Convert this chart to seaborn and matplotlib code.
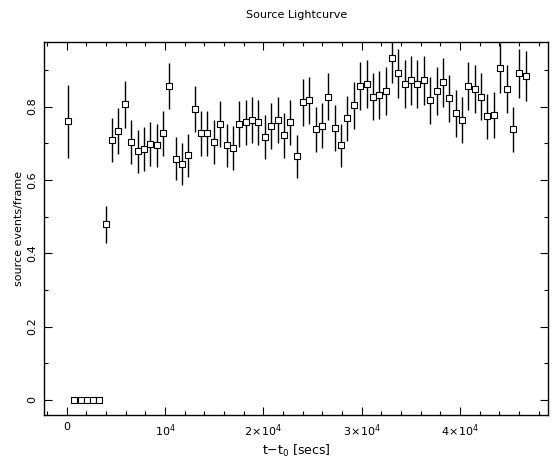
import numpy as np
import pandas as pd
import seaborn as sns
import matplotlib.pyplot as plt
from matplotlib.ticker import MultipleLocator, FixedLocator

# binned lightcurve values
time_s = [100, 770, 1420, 2040, 2650, 3260, 4000, 4640, 5250, 5960,
          6570, 7220, 7890, 8510, 9190, 9830, 10440, 11120, 11760, 12370,
          13050, 13690, 14300, 15020, 15630, 16280, 16950, 17560, 18240, 18880,
          19490, 20170, 20810, 21500, 22140, 22750, 23400, 24070, 24680, 25330,
          26000, 26610, 27290, 27940, 28550, 29260, 29870, 30520, 31190, 31800,
          32480, 33120, 33730, 34420, 35060, 35670, 36380, 36990, 37640, 38310,
          38920, 39570, 40240, 40860, 41540, 42180, 42790, 43500, 44110, 44760,
          45430, 46040, 46690]
rate = [0.760, 0.0, 0.0, 0.0, 0.0, 0.0, 0.479, 0.708, 0.733, 0.806,
        0.703, 0.678, 0.684, 0.697, 0.694, 0.727, 0.856, 0.658, 0.643, 0.667,
        0.793, 0.727, 0.727, 0.703, 0.752, 0.694, 0.688, 0.752, 0.757, 0.763,
        0.757, 0.718, 0.747, 0.763, 0.722, 0.757, 0.664, 0.812, 0.817, 0.738,
        0.748, 0.827, 0.742, 0.694, 0.768, 0.803, 0.856, 0.861, 0.827, 0.831,
        0.842, 0.932, 0.891, 0.861, 0.872, 0.861, 0.872, 0.817, 0.842, 0.866,
        0.822, 0.782, 0.763, 0.856, 0.847, 0.827, 0.773, 0.776, 0.906, 0.847,
        0.738, 0.891, 0.884]
rate_err = [0.100, 0.0, 0.0, 0.0, 0.0, 0.0, 0.050, 0.060, 0.062, 0.064,
            0.061, 0.058, 0.059, 0.060, 0.059, 0.061, 0.064, 0.058, 0.058, 0.058,
            0.063, 0.061, 0.061, 0.061, 0.063, 0.059, 0.060, 0.063, 0.061, 0.062,
            0.061, 0.060, 0.062, 0.062, 0.061, 0.061, 0.058, 0.064, 0.064, 0.062,
            0.062, 0.065, 0.062, 0.059, 0.062, 0.063, 0.065, 0.066, 0.065, 0.065,
            0.066, 0.068, 0.067, 0.066, 0.067, 0.066, 0.067, 0.064, 0.066, 0.067,
            0.065, 0.064, 0.062, 0.065, 0.065, 0.065, 0.062, 0.063, 0.068, 0.065,
            0.062, 0.067, 0.068]

df = pd.DataFrame({"t": time_s, "rate": rate, "err": rate_err})

sns.set_style("ticks")
plt.rcParams['font.family'] = ['DejaVu Sans']
plt.rcParams['text.color'] = 'black'
plt.rcParams['xtick.color'] = 'black'
plt.rcParams['ytick.color'] = 'black'
plt.rcParams['axes.labelcolor'] = 'black'

fig = plt.figure(figsize=(5.59, 4.68), dpi=100)
ax = fig.add_axes([0.0787, 0.1132, 0.9024, 0.7971])

ax.errorbar(df["t"], df["rate"], yerr=df["err"], fmt="none", ecolor="black",
            elinewidth=1.0, capsize=0)
sns.scatterplot(data=df, x="t", y="rate", ax=ax, marker="s", s=14,
                facecolor="white", edgecolor="black", linewidth=0.8, zorder=3)

ax.set_xlim(-2310, 48990)
ax.set_ylim(-0.041, 0.976)

ax.xaxis.set_major_locator(FixedLocator([0, 10000, 20000, 30000, 40000]))
ax.set_xticklabels(["0", r"$10^4$", r"$2\!\times\!10^4$", r"$3\!\times\!10^4$", r"$4\!\times\!10^4$"])
ax.xaxis.set_minor_locator(MultipleLocator(2000))
ax.yaxis.set_major_locator(MultipleLocator(0.2))
ax.yaxis.set_minor_locator(MultipleLocator(0.1))
ax.set_yticks([0, 0.2, 0.4, 0.6, 0.8])
ax.set_yticklabels(["0", "0.2", "0.4", "0.6", "0.8"], rotation=90, va="center")

ax.tick_params(which="both", direction="in", top=True, right=True,
               labelsize=8, width=0.8, color="black", labelcolor="black")
ax.tick_params(which="major", length=6, pad=5)
ax.tick_params(which="minor", length=3)
for s in ax.spines.values():
    s.set_linewidth(1.0)
    s.set_color("black")

ax.set_xlabel(r"t$-$t$_0$ [secs]", fontsize=9, labelpad=3)
ax.set_ylabel("source events/frame", fontsize=8, labelpad=2)
ax.set_title("Source Lightcurve", fontsize=8, pad=17)

fig.savefig("out.png", dpi=100)
